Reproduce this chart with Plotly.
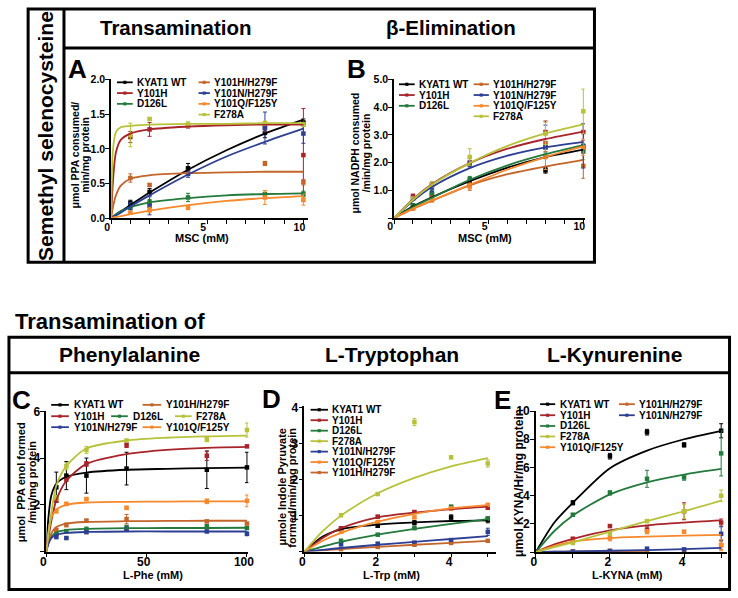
import plotly.graph_objects as go

W, H = 738, 598
FONT = "Liberation Sans, Arial, sans-serif"

SERIES = ["KYAT1 WT", "Y101H", "D126L", "Y101H/H279F", "Y101N/H279F", "Y101Q/F125Y", "F278A"]
COLORS = {
    "KYAT1 WT": "#000000",
    "Y101H": "#a8242a",
    "D126L": "#237a3c",
    "Y101H/H279F": "#c4652a",
    "Y101N/H279F": "#2d3f95",
    "Y101Q/F125Y": "#f7882c",
    "F278A": "#b7c23a",
}

# ---------------- Panel A : MSC transamination ----------------
A_X = [1, 2, 4, 8, 10]
A_CURVE_X = [0, 0.1, 0.25, 0.5, 1, 2, 4, 6, 8, 10]
A_Y = {
    "KYAT1 WT": [0.22, 0.38, 0.72, 1.23, 1.38],
    "Y101H": [1.17, 1.28, 1.33, 1.31, 0.91],
    "D126L": [0.15, 0.23, 0.30, 0.35, 0.35],
    "Y101H/H279F": [0.58, 0.48, 0.66, 0.79, 0.52],
    "Y101N/H279F": [0.18, 0.18, 0.64, 1.30, 1.22],
    "Y101Q/F125Y": [0.08, 0.12, 0.15, 0.30, 0.27],
    "F278A": [1.20, 1.43, 1.35, 1.37, 1.35],
}
A_ERR = {
    "KYAT1 WT": [0.04, 0.05, 0.07, 0.07, 0.05],
    "Y101H": [0.08, 0.10, 0.03, 0.06, 0.67],
    "D126L": [0.05, 0.04, 0.06, 0.02, 0.04],
    "Y101H/H279F": [0.06, 0.02, 0.03, 0.03, 0.04],
    "Y101N/H279F": [0.05, 0.13, 0.05, 0.23, 0.14],
    "Y101Q/F125Y": [0.02, 0.04, 0.02, 0.10, 0.08],
    "F278A": [0.17, 0.02, 0.04, 0.03, 0.03],
}
A_CURVE = {
    "KYAT1 WT": [0, 0.02, 0.05, 0.10, 0.19, 0.37, 0.70, 0.98, 1.22, 1.42],
    "Y101H": [0, 0.55, 0.95, 1.13, 1.22, 1.28, 1.32, 1.34, 1.35, 1.35],
    "D126L": [0, 0.03, 0.06, 0.10, 0.16, 0.23, 0.29, 0.33, 0.35, 0.36],
    "Y101H/H279F": [0, 0.17, 0.33, 0.47, 0.57, 0.62, 0.65, 0.66, 0.67, 0.67],
    "Y101N/H279F": [0, 0.02, 0.04, 0.08, 0.17, 0.33, 0.63, 0.89, 1.10, 1.29],
    "Y101Q/F125Y": [0, 0.01, 0.02, 0.03, 0.06, 0.11, 0.19, 0.25, 0.29, 0.32],
    "F278A": [0, 1.00, 1.24, 1.31, 1.33, 1.35, 1.36, 1.36, 1.37, 1.37],
}

# ---------------- Panel B : MSC beta-elimination ----------------
B_X = [1, 2, 4, 8, 10]
B_CURVE_X = [0, 1, 2, 4, 6, 8, 10]
B_Y = {
    "KYAT1 WT": [0.45, 0.85, 1.30, 1.72, 2.55],
    "Y101H": [0.80, 1.20, 2.00, 3.10, 3.10],
    "D126L": [0.45, 0.90, 1.40, 2.55, 2.40],
    "Y101H/H279F": [0.35, 0.70, 1.15, 2.70, 1.88],
    "Y101N/H279F": [0.70, 1.10, 1.95, 2.55, 2.60],
    "Y101Q/F125Y": [0.35, 0.65, 1.15, 2.20, 2.55],
    "F278A": [0.70, 1.20, 2.20, 3.05, 3.85],
}
B_ERR = {
    "KYAT1 WT": [0.05, 0.10, 0.10, 0.10, 0.10],
    "Y101H": [0.05, 0.10, 0.15, 0.40, 0.30],
    "D126L": [0.05, 0.10, 0.10, 0.20, 0.30],
    "Y101H/H279F": [0.05, 0.10, 0.15, 0.30, 0.45],
    "Y101N/H279F": [0.05, 0.15, 0.10, 0.80, 0.80],
    "Y101Q/F125Y": [0.05, 0.08, 0.10, 0.45, 0.30],
    "F278A": [0.05, 0.10, 0.30, 0.40, 0.80],
}
B_CURVE = {
    "KYAT1 WT": [0, 0.42, 0.75, 1.33, 1.82, 2.20, 2.47],
    "Y101H": [0, 0.68, 1.22, 1.98, 2.50, 2.85, 3.12],
    "D126L": [0, 0.40, 0.73, 1.38, 1.90, 2.30, 2.63],
    "Y101H/H279F": [0, 0.33, 0.62, 1.18, 1.58, 1.86, 2.10],
    "Y101N/H279F": [0, 0.62, 1.12, 1.80, 2.25, 2.55, 2.75],
    "Y101Q/F125Y": [0, 0.34, 0.63, 1.20, 1.75, 2.20, 2.58],
    "F278A": [0, 0.66, 1.20, 1.98, 2.60, 3.05, 3.38],
}

# ---------------- Panel C : L-Phe ----------------
C_X = [5, 10, 20, 40, 80, 100]
C_CURVE_X = [0, 1, 2.5, 5, 10, 20, 40, 60, 80, 100]
C_Y = {
    "KYAT1 WT": [2.75, 3.25, 3.25, 3.55, 3.50, 3.60],
    "Y101H": [2.20, 3.10, 3.75, 4.55, 4.10, 4.50],
    "D126L": [0.75, 0.87, 0.95, 1.03, 1.06, 1.01],
    "Y101H/H279F": [0.93, 1.14, 1.32, 1.39, 1.29, 1.20],
    "Y101N/H279F": [0.62, 0.58, 0.83, 0.97, 0.86, 0.76],
    "Y101Q/F125Y": [1.73, 2.04, 2.25, 1.87, 2.15, 2.17],
    "F278A": [2.30, 3.65, 4.35, 4.75, 4.80, 5.20],
}
C_ERR = {
    "KYAT1 WT": [0.65, 0.60, 0.75, 0.70, 0.80, 0.65],
    "Y101H": [0.10, 0.10, 0.10, 0.10, 0.20, 0.05],
    "D126L": [0.05, 0.08, 0.10, 0.10, 0.10, 0.05],
    "Y101H/H279F": [0.05, 0.08, 0.07, 0.20, 0.05, 0.04],
    "Y101N/H279F": [0.05, 0.03, 0.04, 0.05, 0.03, 0.08],
    "Y101Q/F125Y": [0.08, 0.07, 0.04, 0.07, 0.10, 0.25],
    "F278A": [0.10, 0.15, 0.15, 0.05, 0.10, 0.30],
}
C_CURVE = {
    "KYAT1 WT": [0, 1.40, 2.40, 2.90, 3.20, 3.38, 3.50, 3.54, 3.57, 3.59],
    "Y101H": [0, 0.55, 1.30, 2.20, 3.03, 3.75, 4.17, 4.35, 4.44, 4.48],
    "D126L": [0, 0.35, 0.65, 0.83, 0.92, 0.97, 1.00, 1.01, 1.01, 1.02],
    "Y101H/H279F": [0, 0.40, 0.78, 1.05, 1.20, 1.27, 1.30, 1.31, 1.32, 1.32],
    "Y101N/H279F": [0, 0.32, 0.58, 0.72, 0.80, 0.84, 0.86, 0.86, 0.86, 0.86],
    "Y101Q/F125Y": [0, 0.80, 1.45, 1.80, 2.00, 2.10, 2.13, 2.14, 2.15, 2.15],
    "F278A": [0, 0.70, 1.65, 2.83, 3.66, 4.41, 4.75, 4.87, 4.93, 4.96],
}

# ---------------- Panel D : L-Trp ----------------
D_X = [1, 2, 3, 4, 5]
D_CURVE_X = [0, 0.5, 1, 2, 3, 4, 5]
D_Y = {
    "KYAT1 WT": [0.62, 0.72, 0.80, 0.95, 0.88],
    "Y101H": [0.65, 0.97, 1.10, 1.20, 1.22],
    "D126L": [0.30, 0.47, 0.65, 1.25, 0.92],
    "Y101H/H279F": [0.07, 0.13, 0.19, 0.24, 0.30],
    "Y101N/H279F": [0.20, 0.22, 0.25, 0.32, 0.55],
    "Y101Q/F125Y": [0.55, 0.82, 0.95, 1.20, 1.30],
    "F278A": [1.01, 1.60, 3.60, 2.62, 2.45],
}
D_ERR = {
    "KYAT1 WT": [0.03, 0.05, 0.06, 0.07, 0.08],
    "Y101H": [0.03, 0.04, 0.04, 0.03, 0.04],
    "D126L": [0.04, 0.02, 0.03, 0.03, 0.03],
    "Y101H/H279F": [0.01, 0.01, 0.01, 0.01, 0.01],
    "Y101N/H279F": [0.03, 0.03, 0.03, 0.03, 0.10],
    "Y101Q/F125Y": [0.03, 0.03, 0.03, 0.03, 0.03],
    "F278A": [0.03, 0.04, 0.10, 0.04, 0.10],
}
D_CURVE = {
    "KYAT1 WT": [0, 0.42, 0.62, 0.75, 0.81, 0.85, 0.87],
    "Y101H": [0, 0.38, 0.65, 0.95, 1.08, 1.18, 1.25],
    "D126L": [0, 0.14, 0.27, 0.47, 0.63, 0.77, 0.90],
    "Y101H/H279F": [0, 0.035, 0.07, 0.13, 0.19, 0.24, 0.30],
    "Y101N/H279F": [0, 0.05, 0.10, 0.19, 0.27, 0.35, 0.43],
    "Y101Q/F125Y": [0, 0.30, 0.52, 0.83, 1.05, 1.20, 1.29],
    "F278A": [0, 0.57, 1.00, 1.62, 2.05, 2.37, 2.60],
}

# ---------------- Panel E : L-KYNA ----------------
E_X = [1, 2, 3, 4, 5]
E_CURVE_X = [0, 0.5, 1, 2, 3, 4, 5]
E_Y = {
    "KYAT1 WT": [3.5, 6.8, 8.5, 7.6, 8.6],
    "Y101H": [0.95, 1.85, 1.6, 2.9, 2.1],
    "D126L": [2.65, 4.2, 5.2, 5.3, 7.0],
    "Y101H/H279F": [0.05, 0.10, 0.08, 0.05, 0.5],
    "Y101N/H279F": [0.05, 0.08, 0.25, 0.20, 1.3],
    "Y101Q/F125Y": [0.75, 1.0, 1.45, 1.45, 0.5],
    "F278A": [0.65, 1.3, 2.2, 2.9, 4.0],
}
E_ERR = {
    "KYAT1 WT": [0.15, 0.2, 0.2, 0.15, 0.5],
    "Y101H": [0.1, 0.1, 0.2, 0.6, 0.25],
    "D126L": [0.1, 0.15, 0.6, 0.2, 1.6],
    "Y101H/H279F": [0.02, 0.02, 0.02, 0.02, 0.3],
    "Y101N/H279F": [0.02, 0.02, 0.05, 0.05, 0.5],
    "Y101Q/F125Y": [0.1, 0.2, 0.15, 0.1, 0.4],
    "F278A": [0.1, 0.1, 0.1, 0.5, 0.4],
}
E_CURVE = {
    "KYAT1 WT": [0, 2.1, 3.5, 5.95, 7.2, 8.0, 8.6],
    "Y101H": [0, 0.55, 0.95, 1.55, 1.9, 2.1, 2.25],
    "D126L": [0, 1.5, 2.6, 4.1, 4.95, 5.5, 5.9],
    "Y101H/H279F": [0, 0.03, 0.05, 0.08, 0.10, None, None],
    "Y101N/H279F": [0, 0.03, 0.05, 0.10, 0.15, 0.22, 0.30],
    "Y101Q/F125Y": [0, 0.45, 0.75, 1.0, 1.1, 1.18, 1.22],
    "F278A": [0, 0.35, 0.7, 1.45, 2.2, 2.9, 3.65],
}


def px(x):
    return x / W


def py(y):
    return 1 - y / H


PANELS = [
    dict(key="A", x=A_X, y=A_Y, err=A_ERR, cx=A_CURVE_X, cy=A_CURVE,
         xpx=(106, 306), ypx=(74, 216), xr=[0, 10.22], yr=[0, 2.0],
         xt=[0, 5, 10], xtt=["0", "5", "10"], xminor=1, xshift=-4, xstand=-6,
         yt=[0, 0.5, 1.0, 1.5, 2.0], ytt=["0.0", "0.5", "1.0", "1.5", "2.0"], tfs=10.5),
    dict(key="B", x=B_X, y=B_Y, err=B_ERR, cx=B_CURVE_X, cy=B_CURVE,
         xpx=(394, 588), ypx=(74, 215.7), xr=[0, 10.07], yr=[0, 5.0],
         xt=[0, 5, 10], xtt=["0", "5", "10"], xminor=1, xshift=-4, xstand=-6,
         yt=[0, 1, 2, 3, 4, 5], ytt=["", "1.0", "2.0", "3.0", "4.0", "5.0"], tfs=10.5),
    dict(key="C", x=C_X, y=C_Y, err=C_ERR, cx=C_CURVE_X, cy=C_CURVE,
         xpx=(40, 245.7), ypx=(413.3, 556.7), xr=[0, 100.7], yr=[0, 6],
         xt=[0, 50, 100], xtt=["0", "50", "100"], xminor=None, xshift=-3, xstand=-6,
         yt=[0, 2, 4, 6], ytt=["", "2", "4", "6"], tfs=12),
    dict(key="D", x=D_X, y=D_Y, err=D_ERR, cx=D_CURVE_X, cy=D_CURVE,
         xpx=(302.7, 498), ypx=(407.7, 556.7), xr=[0, 5.23], yr=[0, 4.05],
         xt=[0, 2, 4], xtt=["0", "2", "4"], xminor=1, xshift=-2, xstand=-6,
         yt=[0, 1, 2, 3, 4], ytt=["", "1", "2", "3", "4"], tfs=12),
    dict(key="E", x=E_X, y=E_Y, err=E_ERR, cx=E_CURVE_X, cy=E_CURVE,
         xpx=(538.3, 733), ypx=(413, 557.3), xr=[0, 5.16], yr=[0, 10],
         xt=[0, 2, 4], xtt=["0", "2", "4"], xminor=1, xshift=-2, xstand=-6,
         yt=[0, 2, 4, 6, 8, 10], ytt=["", "2", "4", "6", "8", "10"], tfs=12),
]

fig = go.Figure()
layout = dict(
    width=W, height=H, margin=dict(l=0, r=0, t=0, b=0),
    paper_bgcolor="white", plot_bgcolor="white", showlegend=False,
)

for i, p in enumerate(PANELS, start=1):
    xa = "x" if i == 1 else f"x{i}"
    ya = "y" if i == 1 else f"y{i}"
    tf = dict(family=FONT, size=p["tfs"], color="black", weight="bold")
    xax = dict(
        domain=[px(p["xpx"][0]), px(p["xpx"][1])], range=p["xr"], anchor=ya,
        showline=True, linecolor="black", linewidth=1.6, showgrid=False, zeroline=False,
        ticks="outside", ticklen=4, tickwidth=1.3, tickcolor="black",
        tickmode="array", tickvals=p["xt"], ticktext=p["xtt"], tickfont=tf,
        ticklabelstandoff=p["xstand"], ticklabelshift=p["xshift"],
    )
    if p["xminor"]:
        xax["minor"] = dict(dtick=p["xminor"], tick0=0, ticks="outside", ticklen=4,
                            tickwidth=1.3, tickcolor="black", showgrid=False)
    yax = dict(
        domain=[py(p["ypx"][1]), py(p["ypx"][0])], range=p["yr"], anchor=xa,
        showline=True, linecolor="black", linewidth=1.6, showgrid=False, zeroline=False,
        ticks="outside", ticklen=4, tickwidth=1.3, tickcolor="black",
        tickmode="array", tickvals=p["yt"], ticktext=p["ytt"], tickfont=tf,
        ticklabelstandoff=-2,
    )
    layout["xaxis" if i == 1 else f"xaxis{i}"] = xax
    layout["yaxis" if i == 1 else f"yaxis{i}"] = yax

    for s in SERIES:
        c = COLORS[s]
        fig.add_trace(go.Scatter(
            x=p["x"], y=p["y"][s], mode="markers", xaxis=xa, yaxis=ya,
            marker=dict(symbol="square", size=4.5, color=c),
            error_y=dict(type="data", array=p["err"][s], color=c, thickness=1, width=2),
            hoverinfo="skip", cliponaxis=False,
        ))
    for s in SERIES:
        c = COLORS[s]
        fig.add_trace(go.Scatter(
            x=p["cx"], y=p["cy"][s], mode="lines", xaxis=xa, yaxis=ya,
            line=dict(color=c, width=1.8, shape="spline", smoothing=0.8),
            connectgaps=False, hoverinfo="skip",
        ))

annotations = []
shapes = []


def text(x, y, t, size, xanchor="center", angle=0, weight="bold"):
    annotations.append(dict(
        x=px(x), y=py(y), xref="paper", yref="paper", text=t, showarrow=False,
        xanchor=xanchor, yanchor="middle", textangle=angle,
        font=dict(family=FONT, size=size, color="black", weight=weight),
    ))


def hline(x0, x1, y, w=3):
    shapes.append(dict(type="line", xref="paper", yref="paper",
                       x0=px(x0), x1=px(x1), y0=py(y), y1=py(y),
                       line=dict(color="black", width=w)))


def vline(x, y0, y1, w=3):
    shapes.append(dict(type="line", xref="paper", yref="paper",
                       x0=px(x), x1=px(x), y0=py(y0), y1=py(y1),
                       line=dict(color="black", width=w)))


# frames
shapes.append(dict(type="rect", xref="paper", yref="paper", x0=px(21.5), x1=px(598),
                   y0=py(261), y1=py(2), line=dict(color="black", width=3)))
vline(58, 2, 261)
hline(58, 598, 42)
shapes.append(dict(type="rect", xref="paper", yref="paper", x0=px(2), x1=px(735.5),
                   y0=py(595.5), y1=py(337.5), line=dict(color="black", width=3)))
hline(2, 735.5, 374)

# headers
text(171.7, 21, "Transamination", 20.5)
text(452, 21, "β-Elimination", 20.5)
text(38.5, 132, "Semethyl selenocysteine", 21, angle=-90)
text(6, 321.7, "Transamination of", 22, xanchor="left")
text(124.7, 355, "Phenylalanine", 21)
text(391.8, 355, "L-Tryptophan", 21)
text(618.8, 355, "L-Kynurenine", 21)

# panel letters
for lx, ly, L in [(72, 63, "A"), (356, 63, "B"), (15, 402, "C"), (269, 401, "D"), (504, 401.5, "E")]:
    text(lx, ly, L, 26)

# axis titles
text(198.3, 236, "MSC (mM)", 11)
text(486.7, 236, "MSC (mM)", 11)
text(148.3, 581, "L-Phe (mM)", 11)
text(391.7, 581, "L-Trp (mM)", 11)
text(631.7, 581, "L-KYNA (mM)", 11)
text(69, 151, "μmol PPA consumed/", 10.5, angle=-90)
text(79.5, 151, "min/mg protein", 10.5, angle=-90)
text(354, 149, "μmol NADPH consumed", 10.5, angle=-90)
text(365, 149, "/min/mg protein", 10.5, angle=-90)
text(15, 486, "μmol  PPA enol formed", 11, angle=-90)
text(25.5, 486, "/min/mg protein", 11, angle=-90)
text(280, 491, "μmole Indole Pyruvate", 11, angle=-90)
text(290.5, 491, "formed/min/mg protein", 11, angle=-90)
text(521.7, 487, "μmol KYNA/Hr/mg protein", 12, angle=-90)

# legends: (series, line_x0, line_x1, text_x, y)
LEGENDS = [
    ("KYAT1 WT", 112, 128, 130, 77), ("Y101H", 112, 128, 130, 88), ("D126L", 112, 128, 130, 99),
    ("Y101H/H279F", 195, 206.5, 208.5, 77), ("Y101N/H279F", 195, 206.5, 208.5, 88),
    ("Y101Q/F125Y", 195, 206.5, 208.5, 99), ("F278A", 195, 206.5, 208.5, 110),
    ("KYAT1 WT", 399, 415, 417, 79), ("Y101H", 399, 415, 417, 90), ("D126L", 399, 415, 417, 101),
    ("Y101H/H279F", 475, 490.5, 492.5, 79), ("Y101N/H279F", 475, 490.5, 492.5, 90),
    ("Y101Q/F125Y", 475, 490.5, 492.5, 101), ("F278A", 475, 490.5, 492.5, 111.7),
    ("KYAT1 WT", 45, 63, 66, 406.7), ("Y101H/H279F", 138, 157, 160, 406.7),
    ("Y101H", 45, 63, 66, 418.3), ("D126L", 106, 123, 126, 418.3), ("F278A", 171, 188, 190, 418.3),
    ("Y101N/H279F", 45, 63, 66, 429.5), ("Y101Q/F125Y", 138, 157, 160, 429.5),
    ("KYAT1 WT", 309, 326.7, 329, 411.7), ("Y101H", 309, 326.7, 329, 422.4),
    ("D126L", 309, 326.7, 329, 433.1), ("F278A", 309, 326.7, 329, 443.8),
    ("Y101N/H279F", 309, 326.7, 329, 454.5), ("Y101Q/F125Y", 309, 326.7, 329, 465.2),
    ("Y101H/H279F", 309, 326.7, 329, 475.9),
    ("KYAT1 WT", 542.7, 558, 561, 406), ("Y101H", 542.7, 558, 561, 417.3),
    ("D126L", 542.7, 558, 561, 428.3), ("F278A", 542.7, 558, 561, 439),
    ("Y101Q/F125Y", 542.7, 558, 561, 450),
    ("Y101H/H279F", 623, 639, 641.7, 406), ("Y101N/H279F", 623, 639, 641.7, 417.3),
]
for s, x0, x1, tx, yy in LEGENDS:
    c = COLORS[s]
    shapes.append(dict(type="line", xref="paper", yref="paper", x0=px(x0), x1=px(x1),
                       y0=py(yy), y1=py(yy), line=dict(color=c, width=1.8)))
    xm = (x0 + x1) / 2
    shapes.append(dict(type="rect", xref="paper", yref="paper", x0=px(xm - 1.6), x1=px(xm + 1.6),
                       y0=py(yy + 1.6), y1=py(yy - 1.6), fillcolor=c, line=dict(width=0)))
    text(tx, yy, s, 10, xanchor="left")

layout["annotations"] = annotations
layout["shapes"] = shapes
fig.update_layout(**layout)
fig.write_html("out.html")
